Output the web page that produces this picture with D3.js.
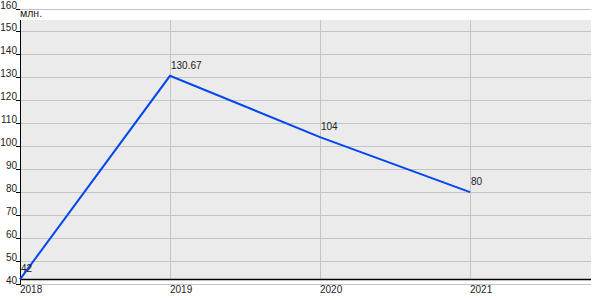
<!DOCTYPE html>
<html lang="ru">
<head>
    <meta charset="UTF-8">
    <title>Chart</title>
    <script src="https://d3js.org/d3.v7.min.js"></script>
    <style>
        body { margin: 0; background: #fff; }
        svg { display: block; font-family: "Liberation Sans", Arial, sans-serif; }
    </style>
</head>
<body>
    <svg width="600" height="300"></svg>
    <script>
        var years = [2018, 2019, 2020, 2021];
        var values = [42, 130.67, 104, 80];
        var valueLabels = ['42', '130.67', '104', '80'];
        var yTicks = [40, 50, 60, 70, 80, 90, 100, 110, 120, 130, 140, 150, 160];
        var unitLabel = 'млн.';

        var svg = d3.select('svg');
        var x = d3.scaleLinear().domain([2018, 2022]).range([20, 620]);
        var y = d3.scaleLinear().domain([40, 160]).range([284, 8.5]);
        var right = 591;
        var plotTop = y(155);
        var plotBottom = Math.round(y(d3.min(values))) + 0.5;

        // grey plot area
        svg.append('rect')
            .attr('x', x(2018)).attr('y', plotTop)
            .attr('width', right - x(2018)).attr('height', plotBottom - plotTop)
            .style('fill', '#ebebeb');

        // horizontal grid
        svg.selectAll('.hgrid')
            .data(yTicks)
            .enter()
            .append('line')
            .attr('x1', x(2018)).attr('x2', right)
            .attr('y1', d => Math.round(y(d)) + 0.5)
            .attr('y2', d => Math.round(y(d)) + 0.5)
            .style('stroke', '#c4c4c4')
            .style('stroke-width', '1px');

        // vertical grid
        svg.selectAll('.vgrid')
            .data(years.slice(1))
            .enter()
            .append('line')
            .attr('x1', d => Math.round(x(d)) + 0.5).attr('x2', d => Math.round(x(d)) + 0.5)
            .attr('y1', plotTop).attr('y2', plotBottom)
            .style('stroke', '#c4c4c4')
            .style('stroke-width', '1px');

        // axes
        svg.append('line')
            .attr('x1', x(2018) + 0.5).attr('x2', x(2018) + 0.5)
            .attr('y1', plotTop).attr('y2', Math.round(y(40)) + 1)
            .style('stroke', '#000').style('stroke-width', '1px');
        svg.append('line')
            .attr('x1', x(2018)).attr('x2', right)
            .attr('y1', plotBottom).attr('y2', plotBottom)
            .style('stroke', '#000').style('stroke-width', '1.5px');

        // y ticks + labels
        svg.selectAll('.ytick')
            .data(yTicks)
            .enter()
            .append('line')
            .attr('x1', x(2018) - 4).attr('x2', x(2018))
            .attr('y1', d => Math.round(y(d)) + 0.5)
            .attr('y2', d => Math.round(y(d)) + 0.5)
            .style('stroke', '#000');
        svg.selectAll('.ylab')
            .data(yTicks)
            .enter()
            .append('text')
            .attr('x', x(2018) - 3)
            .attr('y', d => y(d))
            .attr('text-anchor', 'end')
            .style('font-size', '10px')
            .style('fill', '#222')
            .text(d => d);

        svg.append('text')
            .attr('x', x(2018)).attr('y', 17)
            .style('font-size', '10.5px').style('fill', '#222')
            .text(unitLabel);

        // x labels
        svg.selectAll('.xlab')
            .data(years)
            .enter()
            .append('text')
            .attr('x', d => x(d))
            .attr('y', 293)
            .style('font-size', '10px')
            .style('fill', '#222')
            .text(d => d);

        // series
        var line = d3.line().x((d, i) => x(years[i])).y(d => y(d));
        svg.append('path')
            .datum(values)
            .attr('d', line)
            .style('fill', 'none')
            .style('stroke', '#0047f0')
            .style('stroke-width', '2px');

        svg.selectAll('.vlab')
            .data(values)
            .enter()
            .append('text')
            .attr('x', (d, i) => x(years[i]) + 1)
            .attr('y', d => y(d) - 7)
            .style('font-size', '10px')
            .style('fill', '#222')
            .text((d, i) => valueLabels[i]);
    </script>
</body>
</html>
